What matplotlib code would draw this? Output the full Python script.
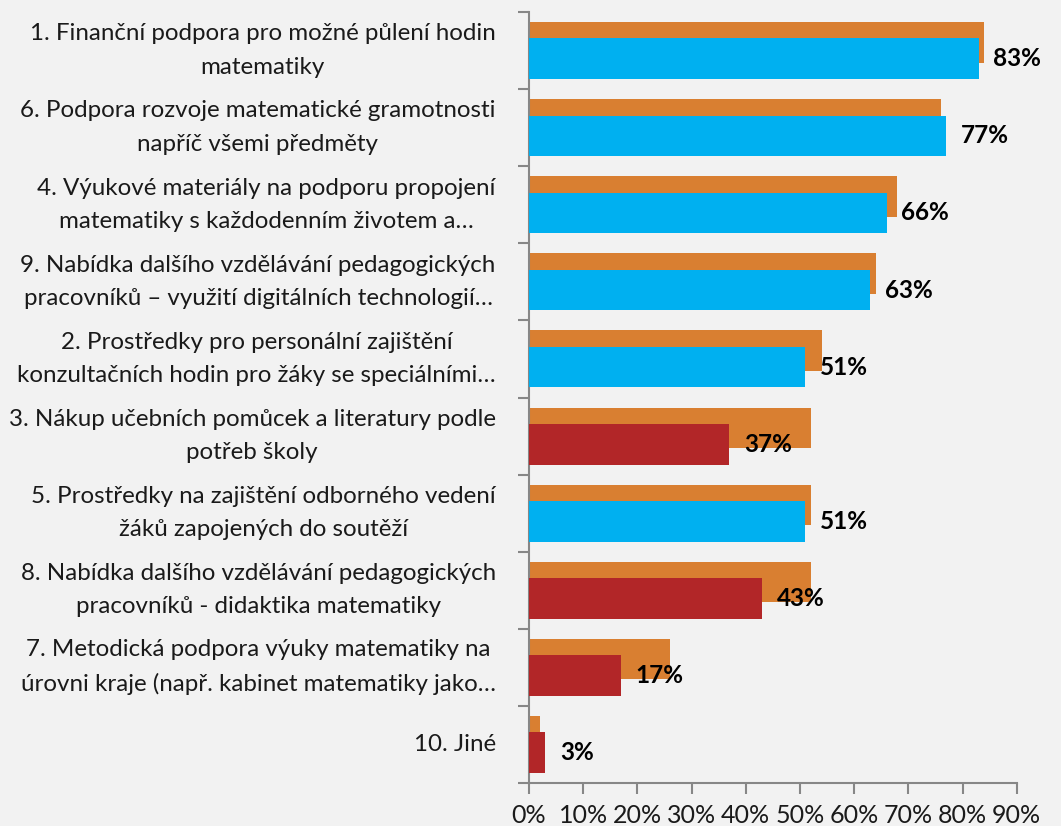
import matplotlib
matplotlib.use("Agg")
import matplotlib.pyplot as plt
import numpy as np

plt.rcParams['font.family'] = ['Lato', 'DejaVu Sans']

categories = [
    "1. Finanční podpora pro možné půlení hodin\nmatematiky",
    "6. Podpora rozvoje matematické gramotnosti\nnapříč všemi předměty",
    "4. Výukové materiály na podporu propojení\nmatematiky s každodenním životem a…",
    "9. Nabídka dalšího vzdělávání pedagogických\npracovníků – využití digitálních technologií…",
    "2. Prostředky pro personální zajištění\nkonzultačních hodin pro žáky se speciálními…",
    "3. Nákup učebních pomůcek a literatury podle\npotřeb školy",
    "5. Prostředky na zajištění odborného vedení\nžáků zapojených do soutěží",
    "8. Nabídka dalšího vzdělávání pedagogických\npracovníků - didaktika matematiky",
    "7. Metodická podpora výuky matematiky na\núrovni kraje (např. kabinet matematiky jako…",
    "10. Jiné",
]
back_values = [84, 76, 68, 64, 54, 52, 52, 52, 26, 2]
front_values = [83, 77, 66, 63, 51, 37, 51, 43, 17, 3]
front_is_high = [True, True, True, True, True, False, True, False, False, False]
xtick_values = [0, 10, 20, 30, 40, 50, 60, 70, 80, 90]

C_ORANGE = '#D97F31'
C_BLUE = '#00B0F0'
C_RED = '#B22628'
BG = '#F2F2F2'
AXC = '#878787'

fig = plt.figure(figsize=(10.61, 8.26), dpi=100, facecolor=BG)
ax = fig.add_axes([529/1061, 1 - 782.7/826, (1016.7-529)/1061, (782.7-12.3)/826])
ax.set_facecolor(BG)

n = len(categories)
y = np.arange(n)
h = 0.53
off = 0.105
front_colors = [C_BLUE if b else C_RED for b in front_is_high]

ax.barh(y - off, back_values, height=h, color=C_ORANGE, zorder=2)
ax.barh(y + off, front_values, height=h, color=front_colors, zorder=3)

for yi, v in zip(y, front_values):
    ax.text(v + 2.7, yi + off, f"{v}%", va='center', ha='left',
            fontsize=17.5, fontweight='bold', color='black', zorder=4)

ax.set_xlim(0, 90)
ax.set_ylim(n - 0.5, -0.5)
ax.set_xticks(xtick_values)
ax.set_xticklabels([f"{v}%" for v in xtick_values], fontsize=18, color='#1a1a1a')

ax.set_yticks(np.arange(-0.5, n, 1.0))
ax.set_yticklabels([])
ax.set_yticks(y, minor=True)
ax.set_yticklabels(categories, minor=True, fontsize=17.4, color='#1a1a1a',
                   ha='right', va='center', multialignment='center', linespacing=1.75)

ax.tick_params(axis='y', which='major', length=8, width=1.5, color=AXC, direction='out')
ax.tick_params(axis='y', which='minor', length=0, pad=24)
ax.tick_params(axis='x', which='major', length=8, width=1.5, color=AXC, direction='out', pad=7)

for s in ['top', 'right']:
    ax.spines[s].set_visible(False)
for s in ['left', 'bottom']:
    ax.spines[s].set_color(AXC)
    ax.spines[s].set_linewidth(1.5)

fig.savefig('out.png', dpi=100, facecolor=BG)
